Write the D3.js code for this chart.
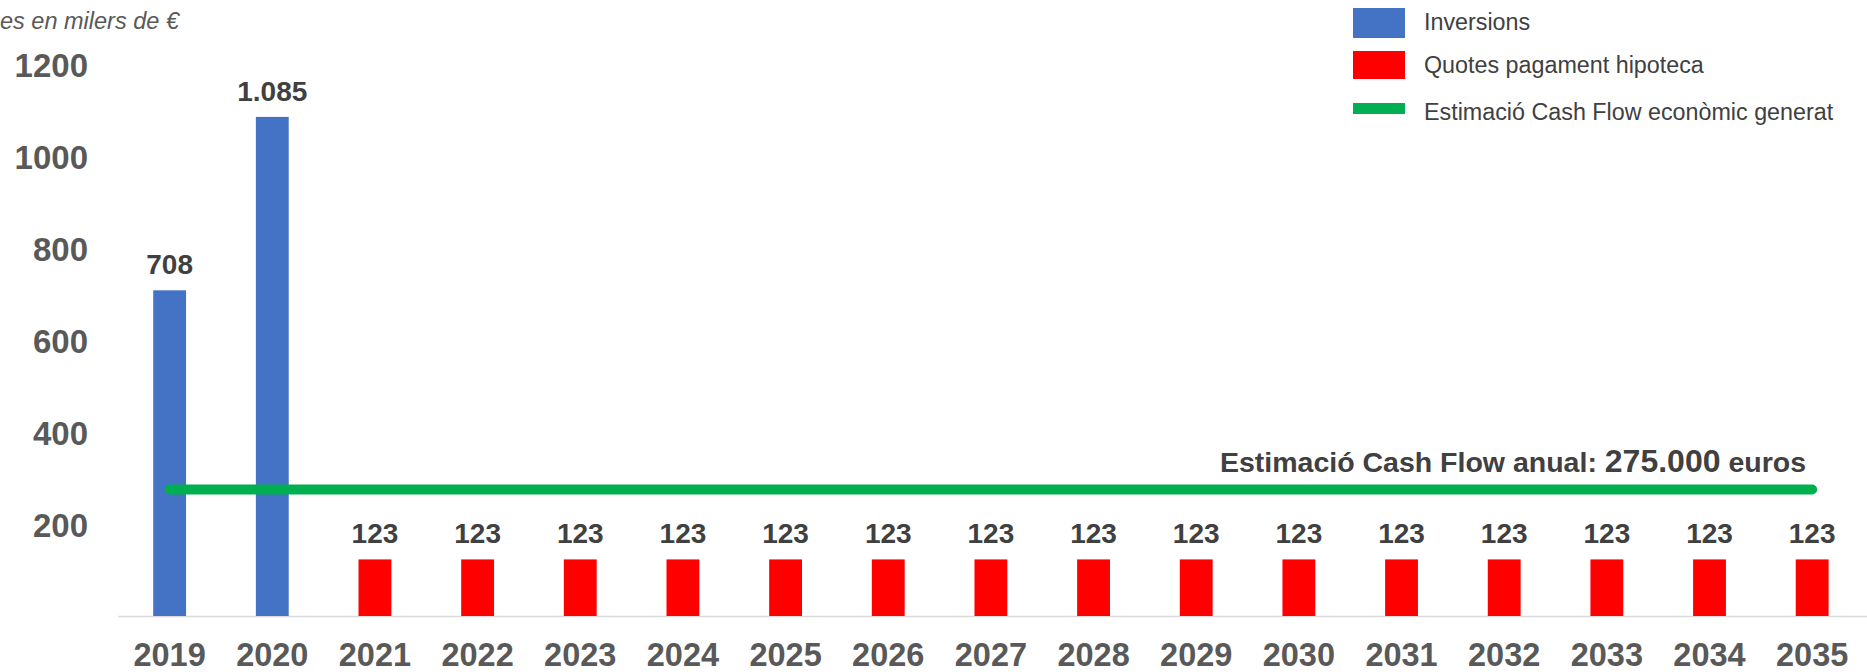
<!DOCTYPE html>
<html>
<head>
<meta charset="utf-8">
<script src="https://cdn.jsdelivr.net/npm/d3@7"></script>
<style>
html,body{margin:0;padding:0;background:#fff;}
svg{display:block;font-family:"Liberation Sans",Arial,sans-serif;}
</style>
</head>
<body>
<svg id="chart" width="1867" height="672"></svg>
<script>
const years = ["2019","2020","2021","2022","2023","2024","2025","2026","2027","2028","2029","2030","2031","2032","2033","2034","2035"];
const inversions = [708,1085,null,null,null,null,null,null,null,null,null,null,null,null,null,null,null];
const quotes = [null,null,123,123,123,123,123,123,123,123,123,123,123,123,123,123,123];
const cashFlow = [275,275,275,275,275,275,275,275,275,275,275,275,275,275,275,275,275];
const inversionsLabels = ["708","1.085"];
const yTicks = [200,400,600,800,1000,1200];
const seriesNames = ["Inversions","Quotes pagament hipoteca","Estimació Cash Flow econòmic generat"];
const seriesColors = ["#4472c4","#ff0000","#00b050"];
const titleText = "es en milers de €";
const annotationText = ["Estimació Cash Flow anual: ","275.000"," euros"];

const svg = d3.select("#chart");
const x = d3.scaleBand().domain(years).range([118.3, 1863.5]).paddingInner(0.68).paddingOuter(0.34);
const y = d3.scaleLinear().domain([0,1200]).range([616, 64]);

// title
svg.append("text").attr("x",0).attr("y",29).attr("text-anchor","start")
  .attr("font-size",23.5).attr("font-style","italic").attr("fill","#595959").text(titleText);

// y axis labels
const yAxis = d3.axisLeft(y).tickValues(yTicks).tickSize(0).tickPadding(0).tickFormat(d3.format("d"));
const ya = svg.append("g").attr("transform","translate(88,2)").call(yAxis);
ya.select(".domain").remove();
ya.selectAll("text").attr("font-size",33).attr("font-weight","bold").attr("fill","#595959")
  .attr("font-family","Liberation Sans, Arial, sans-serif");

// x axis
const xAxis = d3.axisBottom(x).tickSize(0).tickPadding(0);
const xa = svg.append("g").attr("transform","translate(0,616)").call(xAxis);
xa.select(".domain").remove();
xa.selectAll("text").attr("dy",null).attr("y",50).attr("font-size",32.5).attr("font-weight","bold").attr("fill","#595959")
  .attr("font-family","Liberation Sans, Arial, sans-serif");
svg.append("line").attr("x1",118.3).attr("x2",1867).attr("y1",616.5).attr("y2",616.5)
  .attr("stroke","#d9d9d9").attr("stroke-width",1.5);

// bars
function drawBars(vals, color, fmt){
  const data = years.map((yr,i)=>({yr, v: vals[i], i})).filter(d=>d.v!=null);
  svg.append("g").selectAll("rect").data(data).join("rect")
    .attr("x",d=>x(d.yr)).attr("width",x.bandwidth())
    .attr("y",d=>y(d.v)).attr("height",d=>y(0)-y(d.v)).attr("fill",color);
  svg.append("g").selectAll("text").data(data).join("text")
    .attr("x",d=>x(d.yr)+x.bandwidth()/2).attr("y",d=>y(d.v)-16)
    .attr("text-anchor","middle").attr("font-size",28).attr("font-weight","bold").attr("fill","#404040")
    .text((d,k)=>fmt(d,k));
}
drawBars(inversions, seriesColors[0], (d,k)=>inversionsLabels[k]);
drawBars(quotes, seriesColors[1], d=>String(d.v));

// cash flow line
const line = d3.line().x((d,i)=>x(years[i])+x.bandwidth()/2).y(d=>y(d));
svg.append("path").datum(cashFlow).attr("d",line).attr("fill","none")
  .attr("stroke",seriesColors[2]).attr("stroke-width",10).attr("stroke-linecap","round");

// annotation
const ann = svg.append("text").attr("x",1806).attr("y",472).attr("text-anchor","end")
  .attr("font-weight","bold").attr("fill","#404040").attr("font-size",28.5);
ann.append("tspan").text(annotationText[0]);
ann.append("tspan").attr("font-size",32).text(annotationText[1]);
ann.append("tspan").text(annotationText[2]);

// legend
const legSw = [{y:8,h:30},{y:51,h:28},{y:103,h:11}];
const legTy = [30,73,120];
const leg = svg.append("g");
seriesNames.forEach((n,i)=>{
  leg.append("rect").attr("x",1353).attr("y",legSw[i].y).attr("width",52).attr("height",legSw[i].h).attr("fill",seriesColors[i]);
  leg.append("text").attr("x",1424).attr("y",legTy[i]).attr("font-size",23.3).attr("fill","#404040").text(n);
});
</script>
</body>
</html>
